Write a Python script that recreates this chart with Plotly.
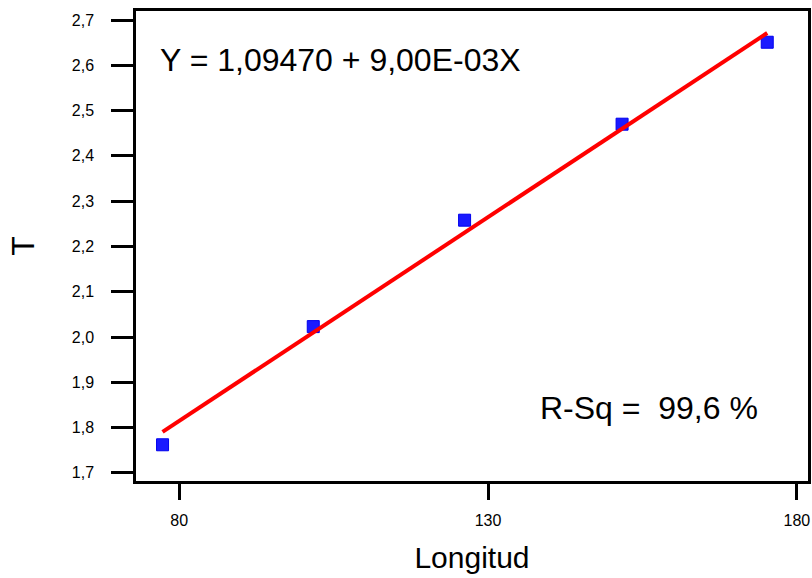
import plotly.graph_objects as go

longitud = [77.3, 101.7, 126.2, 151.7, 175.2]
T = [1.762, 2.023, 2.258, 2.470, 2.651]
intercept = 1.0947
slope = 0.009
fit_x = [min(longitud), max(longitud)]
fit_y = [intercept + slope * v for v in fit_x]

y_ticks = [1.7, 1.8, 1.9, 2.0, 2.1, 2.2, 2.3, 2.4, 2.5, 2.6, 2.7]
x_ticks = [80, 130, 180]

FONT = "Arial, Liberation Sans, sans-serif"

fig = go.Figure()
fig.add_trace(go.Scatter(x=longitud, y=T, mode="markers",
                         marker=dict(symbol="square", size=12, color="#1a1aff",
                                     line=dict(width=1, color="#0000ee")),
                         showlegend=False))
fig.add_trace(go.Scatter(x=fit_x, y=fit_y, mode="lines",
                         line=dict(color="#ff0000", width=4), showlegend=False))

fig.update_layout(
    width=812, height=578,
    margin=dict(l=136, r=1, t=11, b=97),
    plot_bgcolor="white", paper_bgcolor="white",
    separators=",.",
    font=dict(family=FONT, color="black"),
    xaxis=dict(range=[73.0, 181.8], tickvals=x_ticks, ticks="outside", ticklen=16,
               tickwidth=2.5, tickcolor="black", showline=True, linewidth=2.5,
               linecolor="black", mirror=True, showgrid=False, zeroline=False,
               tickfont=dict(size=16), ticklabelstandoff=7,
               title=dict(text="Longitud", font=dict(size=30), standoff=20)),
    yaxis=dict(range=[1.682, 2.72], tickvals=y_ticks, tickformat=".1f",
               ticks="outside", ticklen=22, tickwidth=2.5, tickcolor="black",
               showline=True, linewidth=2.5, linecolor="black", mirror=True,
               showgrid=False, zeroline=False, tickfont=dict(size=16),
               ticklabelstandoff=14,
               title=dict(text="T", font=dict(size=32), standoff=28)),
    annotations=[
        dict(text="Y = 1,09470 + 9,00E-03X", xref="paper", yref="paper",
             x=0.0326, y=0.896, xanchor="left", yanchor="middle",
             showarrow=False, font=dict(size=32)),
        dict(text="R-Sq =  99,6 %", xref="paper", yref="paper",
             x=0.5985, y=0.155, xanchor="left", yanchor="middle",
             showarrow=False, font=dict(size=32)),
    ],
)

fig.write_html("out.html", config={"displayModeBar": False},
               post_script="document.body.style.margin='0';document.body.style.overflow='hidden';")
